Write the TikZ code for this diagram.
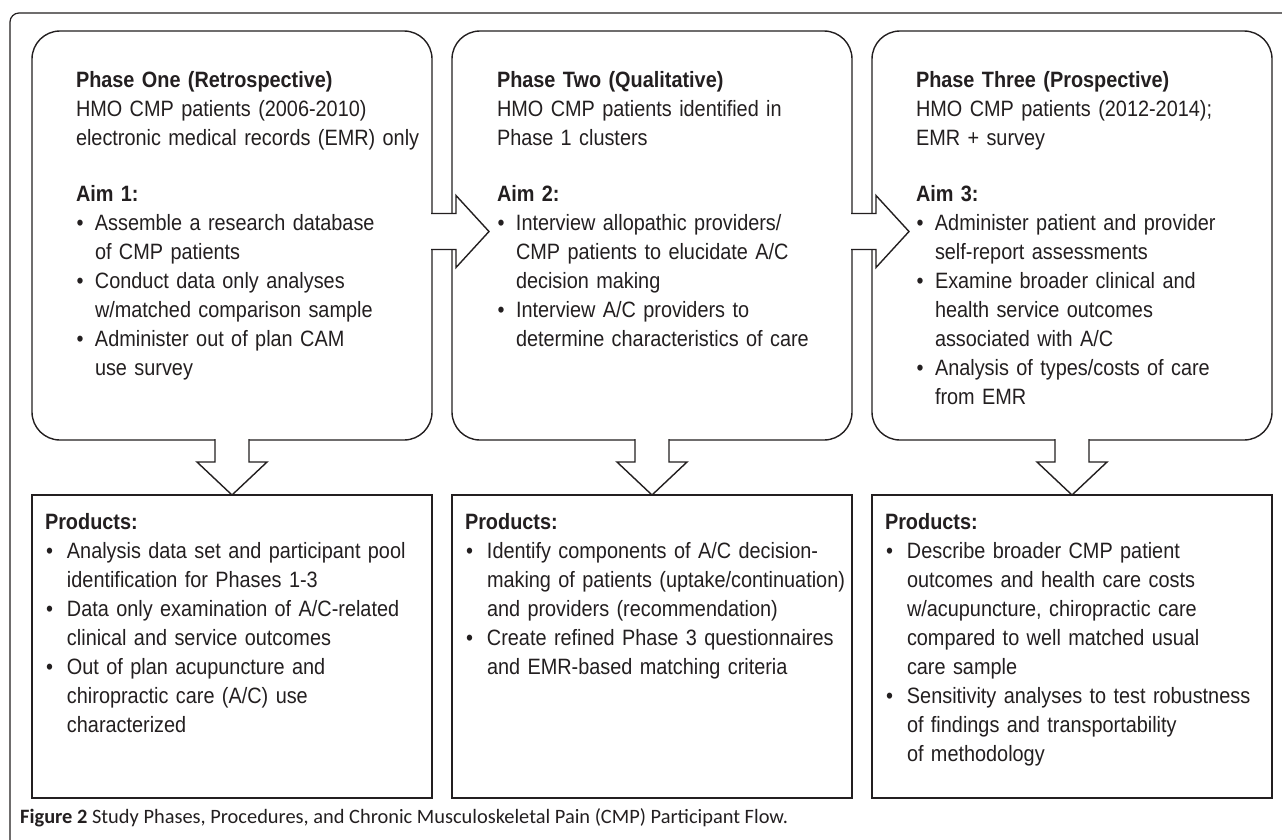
\documentclass[tikz,border=0pt]{standalone}
\usepackage{fontspec}
\setmainfont{Liberation Sans}[FakeStretch=0.895]
\newfontfamily\capfont{Carlito}
\usetikzlibrary{calc}
\definecolor{ink}{HTML}{231F20}
\newcommand{\bulT}[1]{\par\noindent\hangindent=19pt\hangafter=1\makebox[19pt][l]{\hspace{0.5pt}•}#1}
\newcommand{\bulB}[1]{\par\noindent\hangindent=22pt\hangafter=1\makebox[22pt][l]{\hspace{1pt}•}#1}
\tikzset{
  topbox/.style={draw=ink, line width=1.4pt, rounded corners=28pt, minimum width=400pt, minimum height=409pt, inner sep=0pt, outer sep=0pt},
  botbox/.style={draw=ink, line width=1.8pt, minimum width=400pt, minimum height=303pt, inner sep=0pt, outer sep=0pt},
  txt/.style={anchor=base west, inner sep=0pt, outer sep=0pt, text width=392pt, align=left, text=ink,
    font=\fontsize{22.2pt}{29pt}\selectfont},
  blockarrow/.style={fill=white, draw=ink, line width=1.4pt, line join=miter},
  frame/.style={draw=ink, line width=1.2pt, rounded corners=9pt}
}
\begin{document}
\begin{tikzpicture}[x=1pt,y=-1pt]
\useasboundingbox (0,0) rectangle (1282,839);
\fill[white] (0,0) rectangle (1282,839);
\draw[frame] (10,850) -- (10,13) -- (1290,13);

% top boxes
\node[topbox] (p1) at (232,235.5) {};
\node[topbox] (p2) at (652,235.5) {};
\node[topbox] (p3) at (1072,235.5) {};
% bottom boxes
\node[botbox] (r1) at (232,646.5) {};
\node[botbox] (r2) at (652,646.5) {};
\node[botbox] (r3) at (1072,646.5) {};

% right arrows
\path[blockarrow] ($(p1.east)+(-1,-22)$) -- ++(25,0) -- ++(0,-18) -- ++(33,36) -- ++(-33,36) -- ++(0,-18) -- ++(-25,0);
\path[blockarrow] ($(p2.east)+(-1,-22)$) -- ++(25,0) -- ++(0,-18) -- ++(33,36) -- ++(-33,36) -- ++(0,-18) -- ++(-25,0);
% down arrows
\path[blockarrow] ($(p1.south)+(-17,-1)$) -- ++(0,23) -- ++(-18,0) -- (r1.north) -- ++(35,-33) -- ++(-18,0) -- ++(0,-23);
\path[blockarrow] ($(p2.south)+(-17,-1)$) -- ++(0,23) -- ++(-18,0) -- (r2.north) -- ++(35,-33) -- ++(-18,0) -- ++(0,-23);
\path[blockarrow] ($(p3.south)+(-17,-1)$) -- ++(0,23) -- ++(-18,0) -- (r3.north) -- ++(35,-33) -- ++(-18,0) -- ++(0,-23);

% top texts
\node[txt] (t1) at (76,87) {\textbf{Phase One (Retrospective)}\\
HMO CMP patients (2006-2010)\\
electronic medical records (EMR) only\par\vspace{27pt}
\noindent\textbf{Aim 1:}
\bulT{Assemble a research database\newline of CMP patients}
\bulT{Conduct data only analyses\newline w/matched comparison sample}
\bulT{Administer out of plan CAM\newline use survey}\par};

\node[txt] (t2) at (497,87) {\textbf{Phase Two (Qualitative)}\\
HMO CMP patients identified in\\
Phase 1 clusters\par\vspace{27pt}
\noindent\textbf{Aim 2:}
\bulT{Interview allopathic providers/\newline CMP patients to elucidate A/C\newline decision making}
\bulT{Interview A/C providers to\newline determine characteristics of care}\par};

\node[txt] (t3) at (916,87) {\textbf{Phase Three (Prospective)}\\
HMO CMP patients (2012-2014);\\
EMR + survey\par\vspace{27pt}
\noindent\textbf{Aim 3:}
\bulT{Administer patient and provider\newline self-report assessments}
\bulT{Examine broader clinical and\newline health service outcomes\newline associated with A/C}
\bulT{Analysis of types/costs of care\newline from EMR}\par};

% bottom texts
\node[txt] (b1) at (45,529) {\textbf{Products:}
\bulB{Analysis data set and participant pool\newline identification for Phases 1-3}
\bulB{Data only examination of A/C-related\newline clinical and service outcomes}
\bulB{Out of plan acupuncture and\newline chiropractic care (A/C) use\newline characterized}\par};

\node[txt] (b2) at (465,529) {\textbf{Products:}
\bulB{Identify components of A/C decision-\newline making of patients (uptake/continuation)\newline and providers (recommendation)}
\bulB{Create refined Phase 3 questionnaires\newline and EMR-based matching criteria}\par};

\node[txt] (b3) at (885,529) {\textbf{Products:}
\bulB{Describe broader CMP patient\newline outcomes and health care costs\newline w/acupuncture, chiropractic care\newline compared to well matched usual\newline care sample}
\bulB{Sensitivity analyses to test robustness\newline of findings and transportability\newline of methodology}\par};

% caption
\node[anchor=base west, inner sep=0pt, text=ink, font=\capfont\fontsize{20.4pt}{22pt}\selectfont] (cap) at (20,823)
  {\textbf{Figure 2} Study Phases, Procedures, and Chronic Musculoskeletal Pain (CMP) Participant Flow.};
\end{tikzpicture}
\end{document}
